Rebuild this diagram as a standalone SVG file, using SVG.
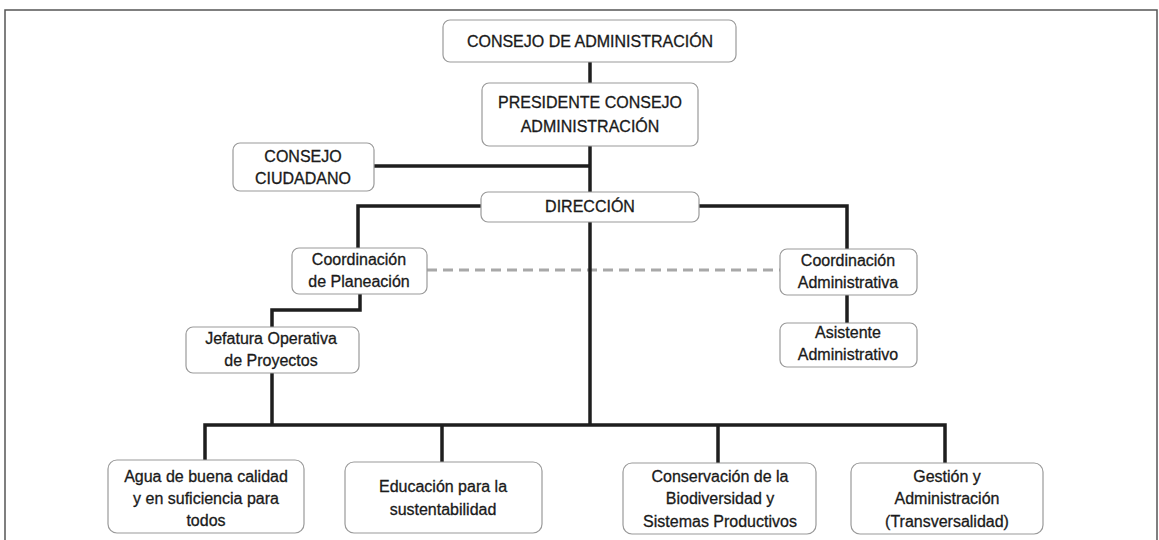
<svg xmlns="http://www.w3.org/2000/svg" width="1159" height="540" viewBox="0 0 1159 540">
<style>
.box{fill:#fff;stroke:#9a9a9a;stroke-width:1.2}
.t{font-family:"Liberation Sans",Arial,sans-serif;font-size:16px;fill:#1a1a1a;stroke:#1a1a1a;stroke-width:0.3;text-anchor:middle}
.c{fill:none;stroke:#1e1e1e;stroke-width:3.5;stroke-linejoin:miter}
.d{fill:none;stroke:#a8a8a8;stroke-width:3;stroke-dasharray:10 6}
</style>
<rect x="0" y="0" width="1159" height="540" fill="#fff"/>
<path d="M5 540 V10 H1157 V540" fill="none" stroke="#555" stroke-width="1.5"/>
<g id="connectors">
<path class="c" d="M590 62 V83"/>
<path class="c" d="M590 146 V192"/>
<path class="c" d="M374 166 H590"/>
<path class="c" d="M481 206 H358 V248"/>
<path class="c" d="M699 206 H847 V249"/>
<path class="d" d="M427 270 H780"/>
<path class="c" d="M360 294 V310 H272 V327"/>
<path class="c" d="M272 373 V425"/>
<path class="c" d="M590 222 V425"/>
<path class="c" d="M847 295 V323"/>
<path class="c" d="M205 460 V425 H945 V463"/>
<path class="c" d="M442 425 V462"/>
<path class="c" d="M718 425 V463"/>
</g>
<g id="n1"><rect class="box" x="443" y="20" width="293" height="42" rx="7"/><text class="t" x="590" y="47">CONSEJO DE ADMINISTRACIÓN</text></g>
<g id="n2"><rect class="box" x="482" y="83" width="216" height="63" rx="7"/><text class="t" x="590" y="108">PRESIDENTE CONSEJO</text><text class="t" x="590" y="132">ADMINISTRACIÓN</text></g>
<g id="n3"><rect class="box" x="233" y="143" width="141" height="48" rx="7"/><text class="t" x="303" y="162">CONSEJO</text><text class="t" x="303" y="184">CIUDADANO</text></g>
<g id="n4"><rect class="box" x="481" y="192" width="218" height="30" rx="7"/><text class="t" x="590" y="212">DIRECCIÓN</text></g>
<g id="n5"><rect class="box" x="292" y="248" width="135" height="46" rx="7"/><text class="t" x="359" y="265">Coordinación</text><text class="t" x="359" y="287">de Planeación</text></g>
<g id="n6"><rect class="box" x="186" y="327" width="173" height="46" rx="7"/><text class="t" x="271" y="344">Jefatura Operativa</text><text class="t" x="271" y="366">de Proyectos</text></g>
<g id="n7"><rect class="box" x="780" y="249" width="137" height="46" rx="7"/><text class="t" x="848" y="266">Coordinación</text><text class="t" x="848" y="288">Administrativa</text></g>
<g id="n8"><rect class="box" x="780" y="323" width="137" height="44" rx="7"/><text class="t" x="848" y="338">Asistente</text><text class="t" x="848" y="360">Administrativo</text></g>
<g id="n9"><rect class="box" x="108" y="460" width="196" height="73" rx="9"/><text class="t" x="206" y="482">Agua de buena calidad</text><text class="t" x="206" y="504">y en suficiencia para</text><text class="t" x="206" y="526">todos</text></g>
<g id="n10"><rect class="box" x="345" y="462" width="197" height="71" rx="9"/><text class="t" x="443" y="492">Educación para la</text><text class="t" x="443" y="515">sustentabilidad</text></g>
<g id="n11"><rect class="box" x="623" y="463" width="193" height="71" rx="9"/><text class="t" x="720" y="482">Conservación de la</text><text class="t" x="720" y="504">Biodiversidad y</text><text class="t" x="720" y="527">Sistemas Productivos</text></g>
<g id="n12"><rect class="box" x="851" y="463" width="192" height="71" rx="9"/><text class="t" x="947" y="482">Gestión y</text><text class="t" x="947" y="504">Administración</text><text class="t" x="947" y="527">(Transversalidad)</text></g>
</svg>
